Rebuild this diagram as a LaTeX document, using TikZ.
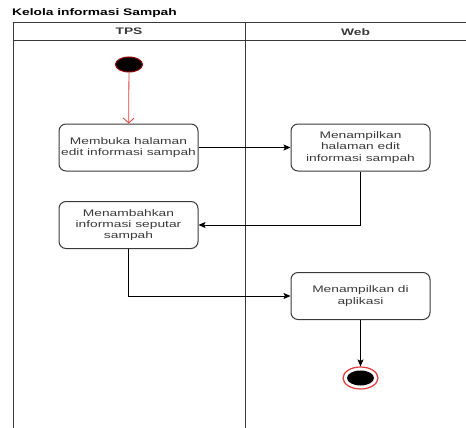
\documentclass[tikz,border=0pt]{standalone}
\usepackage{fontspec}
\setmainfont{Liberation Sans}[FakeStretch=1.45]
\usetikzlibrary{arrows.meta,shapes.geometric}
\definecolor{ln}{HTML}{3A3A3A}
\definecolor{rd}{HTML}{E03A3A}
\tikzset{
  actbox/.style={draw=ln, line width=1pt, rounded corners=7pt, minimum width=139pt, minimum height=47pt, align=center, font=\fontsize{9.5}{11.2}\selectfont, text=ln, inner sep=0pt},
  flow/.style={draw=black, line width=0.8pt, -{Stealth[length=7pt,width=6pt,inset=1.5pt]}},
  lane/.style={draw=ln, line width=1pt},
  hdr/.style={font=\fontsize{9.5}{11}\selectfont\bfseries, text=ln}
}
\begin{document}
\begin{tikzpicture}[x=1pt,y=-1pt]
\useasboundingbox (0,0) rectangle (466,428);
% title
\node[anchor=west, font=\fontsize{9.5}{11}\selectfont\bfseries, text=black, inner sep=0pt] (title) at (12,13) {Kelola informasi Sampah};
% pool
\draw[lane] (13,428) -- (13,22.7) -- (466,22.7);
\draw[lane] (13,40.7) -- (466,40.7);
\draw[lane] (245,22.7) -- (245,428);
\node[hdr] (tps) at (129,31.7) {TPS};
\node[hdr] (web) at (355.5,31.7) {Web};
% start
\node[ellipse, draw=red!60!black, fill=black, line width=1pt, minimum width=27pt, minimum height=15pt, inner sep=0pt] (start) at (129,64.5) {};
% activities
\node[actbox] (a1) at (128.5,147.5) {Membuka halaman\\edit informasi sampah};
\node[actbox] (a2) at (360.5,147.5) {Menampilkan\\halaman edit\\informasi sampah};
\node[actbox] (a3) at (128.5,225) {Menambahkan\\informasi seputar\\sampah};
\node[actbox] (a4) at (360.5,296) {Menampilkan di\\aplikasi};
% end
\node[ellipse, draw=rd, fill=white, line width=1.2pt, minimum width=35pt, minimum height=22pt, inner sep=0pt] (end) at (360.5,378) {};
\node[ellipse, fill=black, minimum width=27pt, minimum height=15pt, inner sep=0pt] (endin) at (360.5,378) {};
% flows
\draw[draw=rd, line width=0.8pt, -{Straight Barb[length=5pt,width=11pt]}] (start) -- (a1);
\draw[flow] (a1) -- (a2);
\draw[flow] (a2.south) |- (a3.east);
\draw[flow] (a3.south) |- (a4.west);
\draw[flow] (a4) -- (end);
\end{tikzpicture}
\end{document}
